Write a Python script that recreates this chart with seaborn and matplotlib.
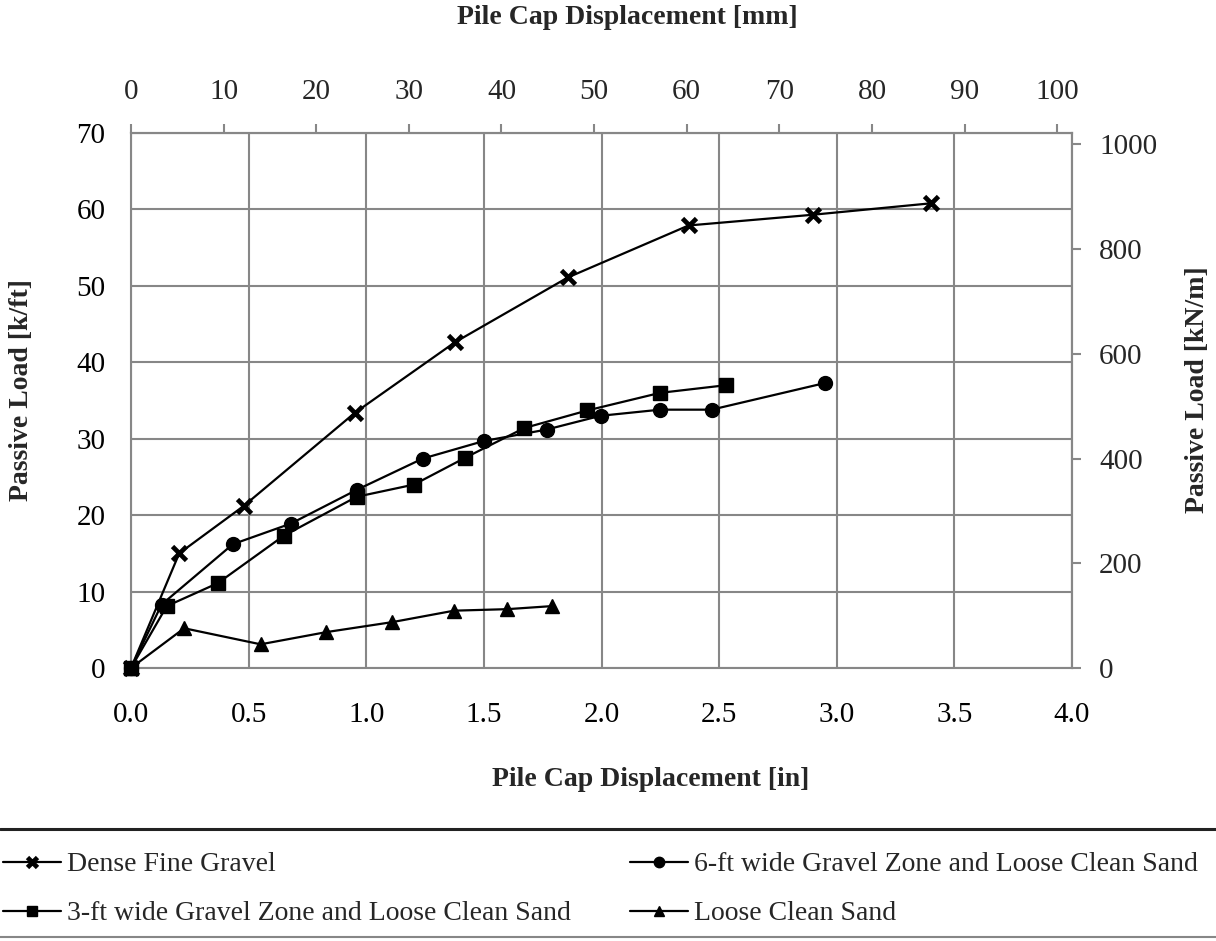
import numpy as np
import pandas as pd
import matplotlib
matplotlib.use("Agg")
import matplotlib.pyplot as plt
from matplotlib.lines import Line2D
import seaborn as sns

# ---------------- data ----------------
dense_x = [0.0, 0.205, 0.479, 0.952, 1.376, 1.857, 2.37, 2.897, 3.40]
dense_y = [0.0, 15.0, 21.2, 33.4, 42.6, 51.1, 57.9, 59.3, 60.8]

six_x = [0.0, 0.13, 0.433, 0.68, 0.959, 1.24, 1.50, 1.767, 1.996, 2.249, 2.468, 2.952]
six_y = [0.0, 8.3, 16.2, 18.9, 23.3, 27.4, 29.7, 31.2, 33.0, 33.8, 33.8, 37.3]

three_x = [0.0, 0.152, 0.369, 0.649, 0.959, 1.203, 1.42, 1.672, 1.94, 2.249, 2.529]
three_y = [0.0, 8.1, 11.1, 17.3, 22.4, 24.0, 27.5, 31.4, 33.7, 36.0, 37.0]

loose_x = [0.0, 0.226, 0.551, 0.831, 1.11, 1.373, 1.60, 1.79]
loose_y = [0.0, 5.2, 3.1, 4.7, 6.0, 7.5, 7.7, 8.1]

labels = ["Dense Fine Gravel",
          "6-ft wide Gravel Zone and Loose Clean Sand",
          "3-ft wide Gravel Zone and Loose Clean Sand",
          "Loose Clean Sand"]

x_ticks = [0.0, 0.5, 1.0, 1.5, 2.0, 2.5, 3.0, 3.5, 4.0]
y_ticks = [0, 10, 20, 30, 40, 50, 60, 70]
mm_ticks = [0, 10, 20, 30, 40, 50, 60, 70, 80, 90, 100]
kn_ticks = [0, 200, 400, 600, 800, 1000]

IN2MM = 25.4
KFT2KNM = 14.5939

# ---------------- style ----------------
sns.set_style("white")
plt.rcParams["font.family"] = ["Liberation Serif", "DejaVu Serif"]

W, H = 1216, 941
fig = plt.figure(figsize=(W / 100, H / 100), dpi=100)
L, R, T, B = 131, 1072, 133, 668
ax = fig.add_axes([L / W, 1 - B / H, (R - L) / W, (B - T) / H])

grid_c = "#878787"
tick_fs = 21

series = [
    (dense_x, dense_y, "x", 10.5, 3.4, 3),
    (six_x, six_y, "o", 10, 1.0, 4),
    (loose_x, loose_y, "^", 9.5, 1.0, 5),
    (three_x, three_y, "s", 9.5, 1.0, 6),
]
series_labels = [labels[0], labels[1], labels[3], labels[2]]

handles = {}
for (xs, ys, m, ms, mew, z), lab in zip(series, series_labels):
    df = pd.DataFrame({"x": xs, "y": ys})
    sns.lineplot(data=df, x="x", y="y", ax=ax, color="black", linewidth=1.6,
                 marker=m, markersize=ms, markeredgewidth=mew,
                 markeredgecolor="black", markerfacecolor="black",
                 estimator=None, sort=False, zorder=z, clip_on=False)
    handles[lab] = Line2D([], [], color="black", linewidth=1.6, marker=m,
                          markersize=ms * 0.75, markeredgewidth=mew,
                          markerfacecolor="black", markeredgecolor="black")

ax.set_xlim(0, 4.0)
ax.set_ylim(0, 70)
ax.set_xticks(x_ticks)
ax.set_xticklabels([f"{v:.1f}" for v in x_ticks])
ax.set_yticks(y_ticks)
ax.set_xlabel("")
ax.set_ylabel("")
ax.grid(True, color=grid_c, linewidth=1.5)
ax.set_axisbelow(True)
for s in ax.spines.values():
    s.set_color(grid_c)
    s.set_linewidth(1.5)
    s.set_visible(True)
ax.tick_params(axis="both", which="major", direction="out", length=6.5,
               width=1.5, color=grid_c, labelsize=tick_fs, labelcolor="black")
ax.tick_params(axis="x", pad=18)
ax.tick_params(axis="y", pad=12)

# secondary axes
secx = ax.secondary_xaxis("top", functions=(lambda v: v * IN2MM, lambda v: v / IN2MM))
secx.set_xticks(mm_ticks)
secx.tick_params(direction="out", length=6.5, width=1.5, color=grid_c,
                 labelsize=tick_fs, pad=14)
secx.spines["top"].set_color(grid_c)
secx.spines["top"].set_linewidth(1.5)

secy = ax.secondary_yaxis("right", functions=(lambda v: v * KFT2KNM, lambda v: v / KFT2KNM))
secy.set_yticks(kn_ticks)
secy.tick_params(direction="out", length=6.5, width=1.5, color=grid_c,
                 labelsize=tick_fs, pad=13)
secy.spines["right"].set_color(grid_c)
secy.spines["right"].set_linewidth(1.5)

# axis titles
lab_fs = 20
fig.text(627 / W, 1 - 18 / H, "Pile Cap Displacement [mm]", ha="center", va="center",
         fontsize=lab_fs, fontweight="bold")
fig.text(651 / W, 1 - 779 / H, "Pile Cap Displacement [in]", ha="center", va="center",
         fontsize=lab_fs, fontweight="bold")
fig.text(22 / W, 1 - 390 / H, "Passive Load [k/ft]", ha="center", va="center",
         rotation=90, fontsize=lab_fs, fontweight="bold")
fig.text(1197 / W, 1 - 390 / H, "Passive Load [kN/m]", ha="center", va="center",
         rotation=90, fontsize=lab_fs, fontweight="bold")

# legend box lines
fig.add_artist(Line2D([0, 1], [1 - 829 / H, 1 - 829 / H], transform=fig.transFigure,
                      color="#222222", linewidth=2.2))
fig.add_artist(Line2D([0, 1], [1 - 937 / H, 1 - 937 / H], transform=fig.transFigure,
                      color=grid_c, linewidth=1.5))

leg_fs = 20
common = dict(frameon=False, fontsize=leg_fs, handlelength=2.1, handletextpad=0.2,
              labelspacing=0.85, borderaxespad=0, borderpad=0, loc="upper left")
fig.legend([handles[labels[0]], handles[labels[2]]], [labels[0], labels[2]],
           bbox_to_anchor=(3 / W, 1 - 852 / H), **common)
fig.legend([handles[labels[1]], handles[labels[3]]], [labels[1], labels[3]],
           bbox_to_anchor=(630 / W, 1 - 852 / H), **common)

fig.savefig("out.png", dpi=100)
